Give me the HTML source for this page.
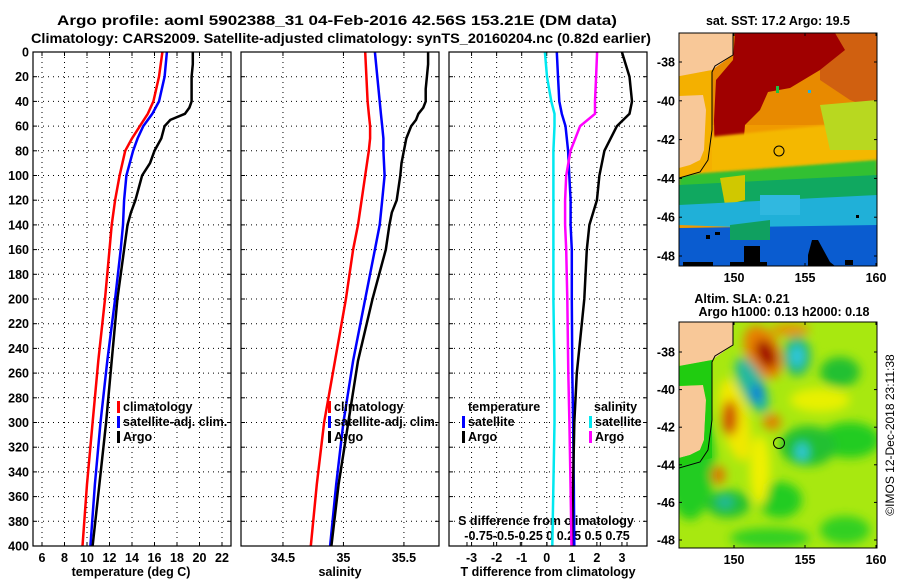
<!DOCTYPE html>
<html><head><meta charset="utf-8">
<style>
body{margin:0;background:#fff;}
svg{display:block;font-family:"Liberation Sans",sans-serif;font-weight:bold;}
</style></head>
<body>
<svg id="fig" width="900" height="580" viewBox="0 0 900 580">
<defs>
<clipPath id="c1"><rect x="679" y="33" width="198" height="233"/></clipPath>
<clipPath id="c2"><rect x="679" y="322" width="198" height="226"/></clipPath>
<clipPath id="p1"><rect x="33" y="52" width="198" height="494"/></clipPath>
<clipPath id="p2"><rect x="241" y="52" width="198" height="494"/></clipPath>
<clipPath id="p3"><rect x="449" y="52" width="198" height="494"/></clipPath>
<filter id="blur" x="-20%" y="-20%" width="140%" height="140%"><feGaussianBlur stdDeviation="5"/></filter>
<filter id="blur2"><feGaussianBlur stdDeviation="1.2"/></filter>
</defs>
<text x="337" y="25" font-size="14" text-anchor="middle" textLength="560" lengthAdjust="spacingAndGlyphs">Argo profile: aoml 5902388_31 04-Feb-2016 42.56S 153.21E (DM data)</text>
<text x="341" y="43" font-size="14" text-anchor="middle" textLength="620" lengthAdjust="spacingAndGlyphs">Climatology: CARS2009. Satellite-adjusted climatology: synTS_20160204.nc (0.82d earlier)</text>
<g id="panels"></g>

<!-- SST map -->
<g>
<text x="778" y="25" font-size="12.5" text-anchor="middle">sat. SST: 17.2 Argo: 19.5</text>
<g clip-path="url(#c1)">
<rect x="679" y="33" width="198" height="233" fill="#f09a00"/>
<polygon points="679,33 877,33 877,125 679,125" fill="#e88a00" />
<polygon points="820,33 877,33 877,110 850,100 820,80" fill="#d06010" />
<polygon points="735,33 835,33 845,50 820,70 790,88 768,92 760,110 745,125 742,160 730,168 715,165 714,120 716,80 733,60" fill="#a00000"/>
<polygon points="679,140 877,120 877,165 679,175" fill="#f4b800" filter="url(#blur2)"/>
<polygon points="820,105 877,100 877,150 830,150" fill="#b8d820"/>
<polygon points="679,175 877,160 877,215 679,210" fill="#30c030" filter="url(#blur2)"/>
<polygon points="679,185 877,175 877,210 679,210" fill="#10a860"/>
<polygon points="720,178 745,175 745,200 725,205" fill="#d0c800"/>
<polygon points="679,205 877,195 877,232 679,225" fill="#20b0d8"/>
<polygon points="760,195 800,195 800,215 760,215" fill="#30b8e0"/>
<polygon points="679,228 877,225 877,266 679,266" fill="#0a5cd0"/>
<polygon points="730,225 770,220 770,240 730,240" fill="#10a060"/>
<polygon points="744,246 760,246 760,262 767,262 767,266 730,266 730,262 744,262" fill="#000"/>
<polygon points="812,240 818,240 830,262 835,266 808,266 808,255" fill="#000"/>
<rect x="683" y="262" width="30" height="4" fill="#000"/>
<rect x="706" y="235" width="4" height="4" fill="#000"/><rect x="715" y="232" width="5" height="3" fill="#000"/>
<rect x="845" y="260" width="8" height="5" fill="#000"/><rect x="856" y="215" width="3" height="3" fill="#000"/>
<rect x="776" y="86" width="3" height="7" fill="#20c040"/><rect x="808" y="90" width="3" height="3" fill="#20b0e0"/>
<polygon points="679,76 712,70 712,170 679,178" fill="#f4b000"/>
<polygon points="679,33 733,33 733,55 712,70 680,76 679,76" fill="#f8c898"/>
<polygon points="679,96 703,95 706,110 704,150 700,160 690,165 679,168" fill="#f8c898"/>
<polyline points="733,33 733,55 715,66 712,72 712,130 708,160 700,172 679,178" fill="none" stroke="#000" stroke-width="1"/>
<circle cx="779" cy="151" r="5" fill="none" stroke="#000" stroke-width="1"/>
</g>
<rect x="679" y="33" width="198" height="233" fill="none" stroke="#000" stroke-width="1"/>
</g>

<!-- SLA map -->
<g>
<text x="742" y="303" font-size="12.5" text-anchor="middle">Altim. SLA: 0.21</text>
<text x="784" y="316" font-size="12.5" text-anchor="middle">Argo h1000: 0.13 h2000: 0.18</text>
<g clip-path="url(#c2)">
<rect x="679" y="322" width="198" height="226" fill="#a8e810"/>
<g filter="url(#blur)">
<ellipse cx="690" cy="460" rx="25" ry="60" fill="#20cc20"/>
<ellipse cx="850" cy="440" rx="30" ry="18" fill="#20cc20"/>
<ellipse cx="840" cy="372" rx="20" ry="15" fill="#20c030"/>
<ellipse cx="780" cy="500" rx="22" ry="18" fill="#20cc20"/>
<ellipse cx="770" cy="538" rx="40" ry="10" fill="#30d020"/>
<ellipse cx="845" cy="530" rx="25" ry="14" fill="#30d020"/>
<ellipse cx="808" cy="446" rx="28" ry="20" fill="#20c030"/>
<ellipse cx="728" cy="504" rx="22" ry="14" fill="#20c030"/>
<ellipse cx="820" cy="400" rx="30" ry="12" fill="#e8f000"/>
<ellipse cx="735" cy="420" rx="14" ry="42" fill="#f0e800" transform="rotate(-12 735 420)"/>
<ellipse cx="760" cy="470" rx="10" ry="35" fill="#f0f000"/>
<ellipse cx="763" cy="352" rx="17" ry="28" fill="#e88000" transform="rotate(-25 763 352)"/>
<ellipse cx="766" cy="354" rx="9" ry="15" fill="#a00000" transform="rotate(-25 766 354)"/>
<ellipse cx="730" cy="418" rx="8" ry="18" fill="#d05000"/>
<ellipse cx="772" cy="422" rx="9" ry="8" fill="#e08000"/>
<ellipse cx="718" cy="475" rx="7" ry="9" fill="#e07000"/>
<ellipse cx="797" cy="356" rx="14" ry="20" fill="#20b870"/>
<ellipse cx="797" cy="356" rx="7" ry="11" fill="#30c8e0"/>
<ellipse cx="752" cy="385" rx="12" ry="30" fill="#20b8a0" transform="rotate(-25 752 385)"/>
<ellipse cx="757" cy="393" rx="5" ry="9" fill="#1070e0"/>
<ellipse cx="802" cy="452" rx="6" ry="9" fill="#30c8e0"/>
<ellipse cx="725" cy="502" rx="8" ry="6" fill="#20b8a0"/>
<ellipse cx="790" cy="330" rx="20" ry="6" fill="#e89000"/>
</g>
<polygon points="679,322 733,322 733,345 712,360 680,366" fill="#f8c898"/>
<polygon points="679,386 703,385 706,400 704,440 700,450 690,455 679,458" fill="#f8c898"/>
<polygon points="679,366 712,360 712,458 679,466 679,458 690,455 700,450 704,440 706,400 703,385 679,386" fill="#20cc10"/>
<polyline points="733,322 733,345 715,356 712,362 712,420 708,450 700,462 679,468" fill="none" stroke="#000" stroke-width="1"/>
<circle cx="779" cy="443" r="5.5" fill="none" stroke="#000" stroke-width="1"/>
</g>
<rect x="679" y="322" width="198" height="226" fill="none" stroke="#000" stroke-width="1"/>
<text transform="translate(894,435) rotate(-90)" font-size="12" font-weight="normal" text-anchor="middle">©IMOS 12-Dec-2018 23:11:38</text>
</g>
<g id="mapaxes"></g>
</svg>
<script>
// ---- data ----
const depthClim = [0,20,40,50,60,70,80,100,120,140,160,200,250,300,350,400];
const tempClim  = [16.7,16.4,15.9,15.4,14.7,14.0,13.4,12.9,12.5,12.2,12.0,11.6,11.0,10.5,10.0,9.6];
const tempSat   = [17.1,16.9,16.4,15.8,15.0,14.5,14.1,13.5,13.3,13.2,13.0,12.5,11.8,11.2,10.7,10.3];
const salClim   = [35.18,35.19,35.2,35.21,35.22,35.22,35.21,35.18,35.15,35.12,35.08,35.02,34.93,34.84,34.78,34.73];
const salSat    = [35.26,35.28,35.3,35.31,35.32,35.33,35.33,35.34,35.32,35.3,35.26,35.18,35.08,35.0,34.94,34.89];
const depthArgo = [0,10,20,30,40,45,50,55,60,70,80,90,100,120,130,140,160,200,250,300,350,400];
const tempArgo  = [19.4,19.4,19.3,19.3,19.3,19.1,18.7,17.4,16.9,16.6,16.0,15.6,14.9,14.3,13.9,13.6,13.3,12.7,12.2,11.7,11.1,10.5];
const salArgo   = [35.7,35.7,35.69,35.68,35.68,35.66,35.62,35.6,35.56,35.52,35.5,35.48,35.47,35.44,35.4,35.38,35.35,35.24,35.12,35.04,34.96,34.9];
const depthDiff = [0,20,40,50,60,80,100,120,140,160,200,260,300,350,400];
const tDiffSat  = [0.4,0.45,0.5,0.6,0.75,0.85,0.9,0.95,0.95,1.0,1.0,1.02,1.05,1.08,1.1];
const tDiffArgo = [3.0,3.3,3.4,3.3,2.8,2.3,2.1,2.0,1.7,1.6,1.5,1.2,1.1,1.05,1.0];
const sDiffSat  = [-0.02,0.0,0.04,0.07,0.07,0.06,0.06,0.06,0.06,0.06,0.06,0.07,0.07,0.06,0.05];
const sDiffArgo = [0.47,0.46,0.45,0.45,0.31,0.22,0.18,0.17,0.17,0.18,0.19,0.2,0.21,0.22,0.23];
const depthTicks = [0,20,40,60,80,100,120,140,160,180,200,220,240,260,280,300,320,340,360,380,400];
const tempTicks = [6,8,10,12,14,16,18,20,22];
const salTicks = [34.5,35,35.5];
const tdTicks = [-3,-2,-1,0,1,2,3];
const sdTicks = [-0.75,-0.5,-0.25,0,0.25,0.5,0.75];
const lonTicks = [150,155,160];
const latTicks = [-38,-40,-42,-44,-46,-48];

// ---- axes ----
const NS='http://www.w3.org/2000/svg';
const Y0=52, Y1=546;
function yD(d){return Y0+(d/400)*(Y1-Y0);}
const P=[{x0:33,x1:231,lo:5.2,hi:22.8},{x0:241,x1:439,lo:34.153,hi:35.79},{x0:449,x1:647,lo:-3.9,hi:4.0}];
function xT(v){return P[0].x0+(v-P[0].lo)/(P[0].hi-P[0].lo)*198;}
function xS(v){return P[1].x0+(v-P[1].lo)/(P[1].hi-P[1].lo)*198;}
function xTD(v){return P[2].x0+(v-P[2].lo)/(P[2].hi-P[2].lo)*198;}
function xSD(v){return 547+v*106.7;}
const g=document.getElementById('panels');
function el(tag,attrs,parent){const e=document.createElementNS(NS,tag);for(const k in attrs)e.setAttribute(k,attrs[k]);(parent||g).appendChild(e);return e;}
function txt(x,y,s,size,anchor,parent){const t=el('text',{x:x,y:y,'font-size':size,'text-anchor':anchor||'middle'},parent);t.textContent=s;return t;}

function panel(i,xfn,ticks){
  const p=P[i];
  const grp=el('g',{});
  
  
  depthTicks.forEach(d=>{
    if(d>0&&d<400){const l=el('line',{x1:p.x0,x2:p.x1,y1:yD(d),y2:yD(d),stroke:'#000','stroke-width':1,'stroke-dasharray':'1,4'},grp);
      
      }
    el('line',{x1:p.x0,x2:p.x0+4,y1:yD(d),y2:yD(d),stroke:'#000'},grp);
    el('line',{x1:p.x1-4,x2:p.x1,y1:yD(d),y2:yD(d),stroke:'#000'},grp);
  });
  ticks.forEach(v=>{
    const x=xfn(v);
    const l=el('line',{x1:x,x2:x,y1:Y0,y2:Y1,stroke:'#000','stroke-width':1,'stroke-dasharray':'1,4'},grp);
    
    
    el('line',{x1:x,x2:x,y1:Y1-4,y2:Y1,stroke:'#000'},grp);
    el('line',{x1:x,x2:x,y1:Y0,y2:Y0+4,stroke:'#000'},grp);
    const t=txt(x,562,String(v),12.5,'middle',grp);
    
    
  });
  return grp;
}
function line(xfn,depths,vals,color,name,clip){
  const pts=[];
  for(let i=0;i<depths.length;i++){
    pts.push(xfn(vals[i]).toFixed(1)+','+yD(depths[i]).toFixed(1));
  }
  const pl=el('polyline',{points:pts.join(' '),fill:'none',stroke:color,'stroke-width':2.5,'clip-path':'url(#'+clip+')'});
  
  
}
panel(0,xT,tempTicks);
panel(1,xS,salTicks);
panel(2,xTD,tdTicks);
depthTicks.forEach(d=>{const t=txt(29,yD(d)+4.5,String(d),12.5,'end');
  
  });
sdTicks.forEach(v=>{el('line',{x1:xSD(v),x2:xSD(v),y1:Y1-4,y2:Y1,stroke:'#000'});});
let sdt=txt(546,525,'S difference from climatology',12.5,'middle');


let sdl=txt(547,540,'-0.75-0.5-0.25  0  0.25 0.5 0.75',12.5,'middle');



line(xT,depthClim,tempClim,'#f00','temp-climatology-line','p1');
line(xT,depthClim,tempSat,'#00f','temp-satellite-line','p1');
line(xT,depthArgo,tempArgo,'#000','temp-argo-line','p1');
line(xS,depthClim,salClim,'#f00','sal-climatology-line','p2');
line(xS,depthClim,salSat,'#00f','sal-satellite-line','p2');
line(xS,depthArgo,salArgo,'#000','sal-argo-line','p2');
line(xSD,depthDiff,sDiffSat,'#00e8f0','sdiff-satellite-line','p3');
line(xTD,depthDiff,tDiffSat,'#00f','tdiff-satellite-line','p3');
line(xTD,depthDiff,tDiffArgo,'#000','tdiff-argo-line','p3');
line(xSD,depthDiff,sDiffArgo,'#f0f','sdiff-argo-line','p3');

P.forEach((p,i)=>{const r=el('rect',{x:p.x0,y:Y0,width:198,height:Y1-Y0,fill:'none',stroke:'#000','stroke-width':1.2});
  
  });

function legend(x,y,items,name){
  const lg=el('g',{});
  
  
  items.forEach((it,k)=>{
    if(it[1]) el('rect',{x:x,y:y+k*15-10,width:3,height:12,fill:it[1]},lg);
    txt(x+(it[1]?6:0),y+k*15,it[0],12.5,'start',lg);
  });
}
legend(117,411,[['climatology','#f00'],['satellite-adj. clim.','#00f'],['Argo','#000']],'legend-temperature');
legend(328,411,[['climatology','#f00'],['satellite-adj. clim.','#00f'],['Argo','#000']],'legend-salinity');
legend(468,411,[['temperature',null]],'legend-tdiff-title');
legend(462,426,[['satellite','#00f'],['Argo','#000']],'legend-tdiff');
legend(594,411,[['salinity',null]],'legend-sdiff-title');
legend(589,426,[['satellite','#00e8f0'],['Argo','#f0f']],'legend-sdiff');

[['temperature (deg C)',131,'x-axis-title-temperature'],['salinity',340,'x-axis-title-salinity'],['T difference from climatology',548,'x-axis-title-tdiff']].forEach(a=>{
  const t=txt(a[1],576,a[0],12.5,'middle');
  
  
});

const ma=document.getElementById('mapaxes');
function lonX(l){return 734+(l-150)*14.2;}
[[33,266,62,19.4,'sst'],[322,548,352,18.8,'sla']].forEach(m=>{
  lonTicks.forEach(l=>{
    el('line',{x1:lonX(l),x2:lonX(l),y1:m[1]-3,y2:m[1],stroke:'#000'},ma);
    el('line',{x1:lonX(l),x2:lonX(l),y1:m[0],y2:m[0]+3,stroke:'#000'},ma);
    const t=txt(lonX(l),m[1]+16,String(l),12.5,'middle',ma);
    
    
  });
  latTicks.forEach(la=>{
    const y=m[2]+(-38-la)*m[3];
    el('line',{x1:679,x2:682,y1:y,y2:y,stroke:'#000'},ma);
    el('line',{x1:874,x2:877,y1:y,y2:y,stroke:'#000'},ma);
    const t=txt(675,y+4.5,String(la),12.5,'end',ma);
    
    
  });
});
</script>
</body></html>
